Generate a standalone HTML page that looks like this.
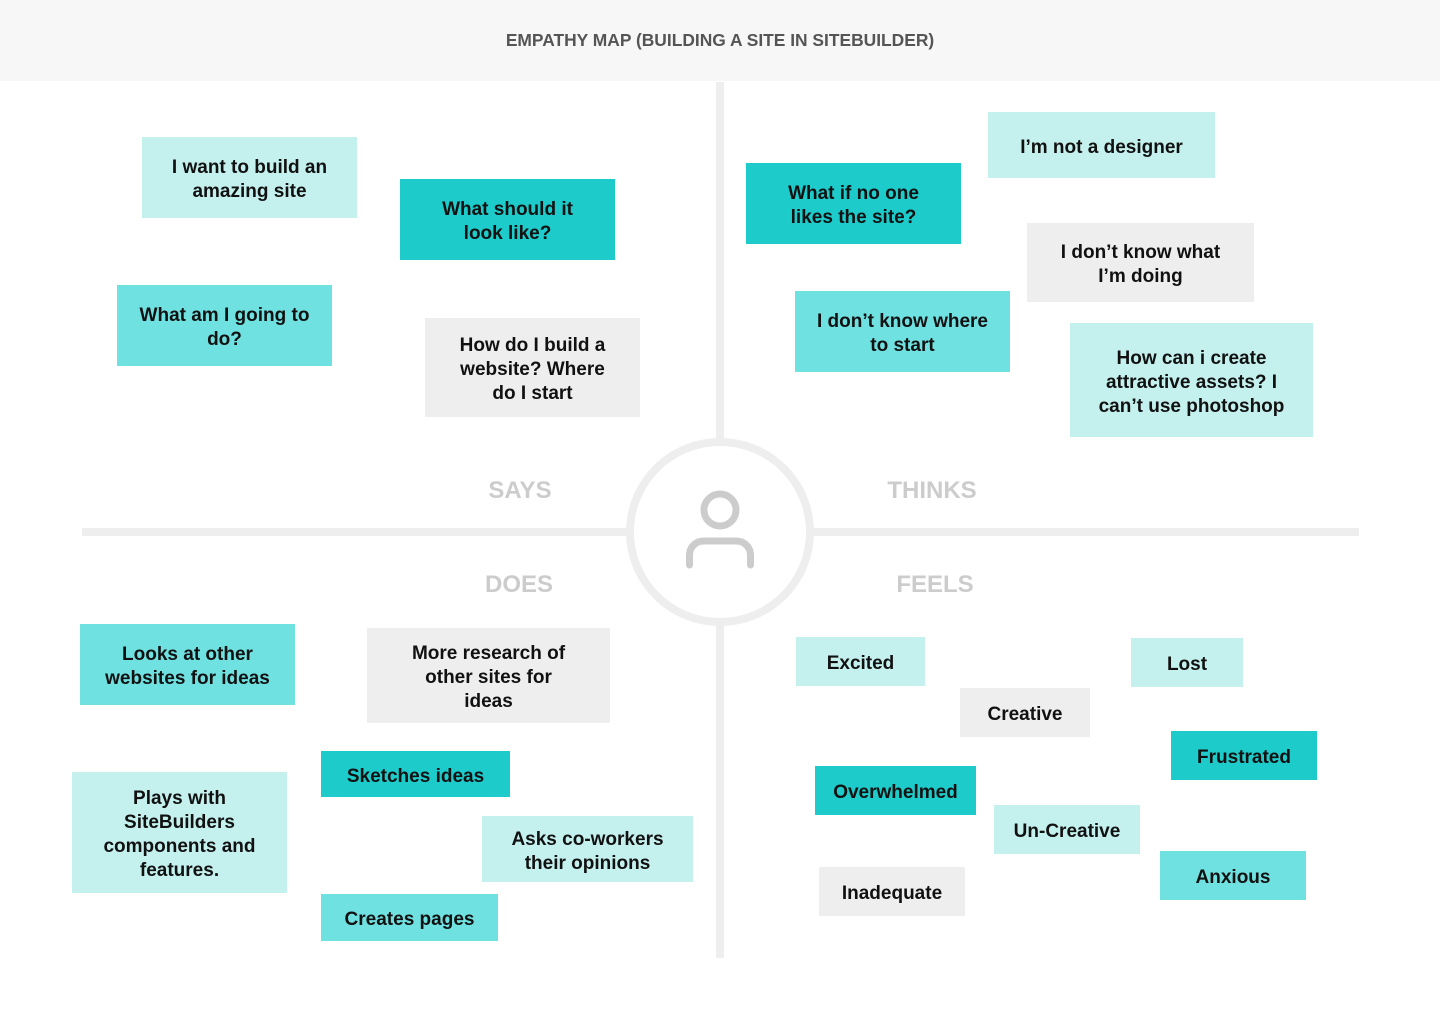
<!DOCTYPE html>
<html><head><meta charset="utf-8">
<style>
html,body{margin:0;padding:0;width:1440px;height:1024px;background:#fff;overflow:hidden;font-family:"Liberation Sans",sans-serif;}
#hdr{position:absolute;left:0;top:0;width:1440px;height:81px;background:#f7f7f7;}
#title{position:absolute;left:0;top:30px;width:1440px;text-align:center;font-size:17.4px;font-weight:bold;color:#555;}
.n{position:absolute;display:flex;align-items:center;justify-content:center;text-align:center;font-weight:bold;font-size:19px;line-height:24px;color:#111;box-sizing:border-box;padding:5px 6px 0 6px;}
.l{background:#c4f1ee}.m{background:#6fe1e1}.d{background:#1ecbcb}.g{background:#eeeeee}
.lab{position:absolute;font-size:24px;font-weight:bold;color:#cccccc;transform:translateX(-50%);}
</style></head><body>
<div id="hdr"></div>
<div id="title">EMPATHY MAP (BUILDING A SITE IN SITEBUILDER)</div>
<svg width="1440" height="1024" style="position:absolute;left:0;top:0">
<rect x="716" y="82" width="8" height="876" fill="#eeeeee"/>
<rect x="82" y="528" width="1277" height="8" fill="#eeeeee"/>
<circle cx="720" cy="532" r="90" fill="#fff" stroke="#eeeeee" stroke-width="8"/>
<circle cx="720" cy="510" r="16" fill="none" stroke="#cccccc" stroke-width="7"/>
<path d="M689.5 565 V555 a14 14 0 0 1 14 -14 h33 a14 14 0 0 1 14 14 V565" fill="none" stroke="#cccccc" stroke-width="7" stroke-linecap="round"/>
</svg>
<div class="lab" style="left:520px;top:477px">SAYS</div>
<div class="lab" style="left:932px;top:477px">THINKS</div>
<div class="lab" style="left:519px;top:571px">DOES</div>
<div class="lab" style="left:935px;top:571px">FEELS</div>

<div class="n l" style="left:142px;top:137px;width:215px;height:81px">I want to build an<br>amazing site</div>
<div class="n d" style="left:400px;top:179px;width:215px;height:81px">What should it<br>look like?</div>
<div class="n m" style="left:117px;top:285px;width:215px;height:81px">What am I going to<br>do?</div>
<div class="n g" style="left:425px;top:318px;width:215px;height:99px">How do I build a<br>website? Where<br>do I start</div>
<div class="n d" style="left:746px;top:163px;width:215px;height:81px">What if no one<br>likes the site?</div>
<div class="n l" style="left:988px;top:112px;width:227px;height:66px">I’m not a designer</div>
<div class="n g" style="left:1027px;top:223px;width:227px;height:79px">I don’t know what<br>I’m doing</div>
<div class="n m" style="left:795px;top:291px;width:215px;height:81px">I don’t know where<br>to start</div>
<div class="n l" style="left:1070px;top:323px;width:243px;height:114px">How can i create<br>attractive assets? I<br>can’t use photoshop</div>

<div class="n m" style="left:80px;top:624px;width:215px;height:81px">Looks at other<br>websites for ideas</div>
<div class="n g" style="left:367px;top:628px;width:243px;height:95px">More research of<br>other sites for<br>ideas</div>
<div class="n d" style="left:321px;top:751px;width:189px;height:46px">Sketches ideas</div>
<div class="n l" style="left:72px;top:772px;width:215px;height:121px">Plays with<br>SiteBuilders<br>components and<br>features.</div>
<div class="n l" style="left:482px;top:816px;width:211px;height:66px">Asks co-workers<br>their opinions</div>
<div class="n m" style="left:321px;top:894px;width:177px;height:47px">Creates pages</div>

<div class="n l" style="left:796px;top:637px;width:129px;height:49px">Excited</div>
<div class="n l" style="left:1131px;top:638px;width:112px;height:49px">Lost</div>
<div class="n g" style="left:960px;top:688px;width:130px;height:49px">Creative</div>
<div class="n d" style="left:1171px;top:731px;width:146px;height:49px">Frustrated</div>
<div class="n d" style="left:815px;top:766px;width:161px;height:49px">Overwhelmed</div>
<div class="n l" style="left:994px;top:805px;width:146px;height:49px">Un-Creative</div>
<div class="n m" style="left:1160px;top:851px;width:146px;height:49px">Anxious</div>
<div class="n g" style="left:819px;top:867px;width:146px;height:49px">Inadequate</div>
</body></html>
